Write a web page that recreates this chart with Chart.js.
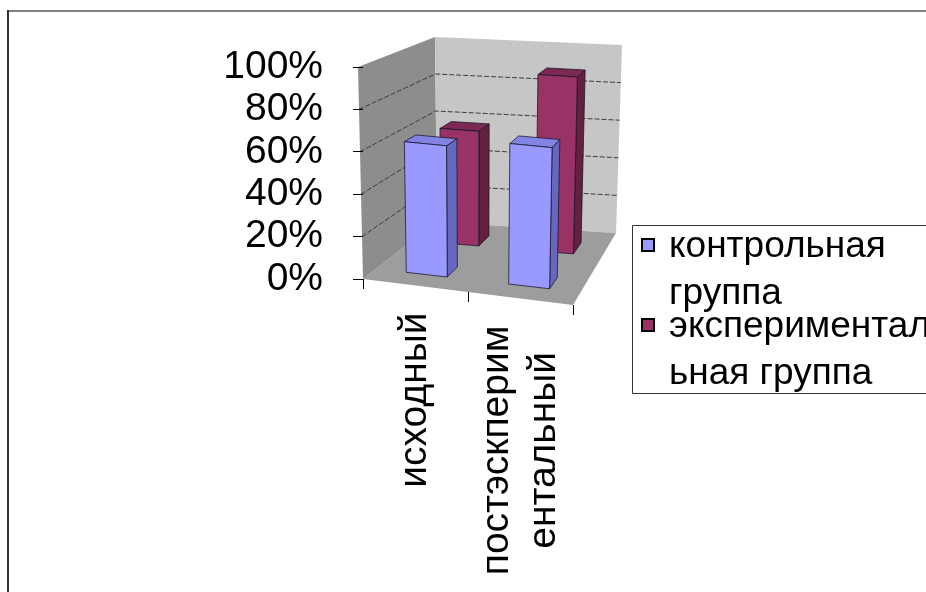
<!DOCTYPE html>
<html>
<head>
<meta charset="utf-8">
<script src="https://cdn.jsdelivr.net/npm/chart.js@4/dist/chart.umd.min.js"></script>
<style>
  html, body { margin: 0; padding: 0; background: #fff; }
  canvas { display: block; }
</style>
</head>
<body>
<canvas id="graph" width="926" height="592"></canvas>
<script>
// data
const categories = ['исходный', ['постэскперим', 'ентальный']]
const seriesNames = ['контрольная группа', 'экспериментальная группа']
const legendLines = [['контрольная', 'группа'], ['экспериментал', 'ьная группа']]
const control = [63, 67]
const experimental = [59, 90]
const yTicks = [0, 20, 40, 60, 80, 100]

const FONT = "'Liberation Sans', Arial, sans-serif"

// colours: front, side, top
const shades = [
    ['#9999ff', '#6767bd', '#8383e3'],
    ['#993366', '#63203f', '#7b2852']
]
// depth row of each series (0 = front, 1 = back wall)
const rows = [[0.17, 0.33], [0.67, 0.83]]

// corners of the 3d box, relative to the chart area
function corners(a) {
    return {
        flb: [a.left, a.bottom], frb: [a.right, a.bottom + 26],
        blb: [a.left + 74, a.bottom - 57], brb: [a.right + 43, a.bottom - 46],
        flt: [a.left - 5, a.top], frt: [a.right + 5, a.top + 21],
        blt: [a.left + 72, a.top - 30], brt: [a.right + 49, a.top - 22]
    }
}

function lerp(p, q, t) {
    return [p[0] + (q[0] - p[0]) * t, p[1] + (q[1] - p[1]) * t]
}

function project(c, u, v, w) {
    const bot = lerp(lerp(c.flb, c.frb, u), lerp(c.blb, c.brb, u), w)
    const top = lerp(lerp(c.flt, c.frt, u), lerp(c.blt, c.brt, u), w)
    return lerp(bot, top, v)
}

function face(ctx, pts, fill, stroke) {
    ctx.beginPath()
    ctx.moveTo(pts[0][0], pts[0][1])
    for (let i = 1; i < pts.length; i++) ctx.lineTo(pts[i][0], pts[i][1])
    ctx.closePath()
    ctx.fillStyle = fill
    ctx.fill()
    if (stroke) {
        ctx.strokeStyle = stroke
        ctx.lineWidth = 1
        ctx.stroke()
    }
}

const scene = {
    id: 'scene',
    beforeDraw(chart) {
        const ctx = chart.ctx
        const a = chart.chartArea
        const c = corners(a)
        const P = (u, v, w) => project(c, u, v, w)
        ctx.save()
        ctx.fillStyle = '#fff'
        ctx.fillRect(0, 0, chart.width, chart.height)
        // frame
        ctx.fillStyle = '#808080'
        ctx.fillRect(8, 10, chart.width - 8, 2)
        ctx.fillStyle = '#333'
        ctx.fillRect(7, 10, 2, chart.height - 10)

        // walls and floor
        face(ctx, [P(0, 0, 0), P(0, 0, 1), P(0, 1, 1), P(0, 1, 0)], '#8d8d8d')
        face(ctx, [P(0, 0, 1), P(1, 0, 1), P(1, 1, 1), P(0, 1, 1)], '#c6c6c6')
        face(ctx, [P(0, 0, 0), P(1, 0, 0), P(1, 0, 1), P(0, 0, 1)], '#9d9d9d')

        // gridlines on the walls
        const ys = chart.scales.y
        ctx.strokeStyle = '#3c3c3c'
        ctx.lineWidth = 1
        ctx.setLineDash([5, 2])
        ys.ticks.forEach(t => {
            if (t.value <= ys.min || t.value >= ys.max) return
            const v = (a.bottom - ys.getPixelForValue(t.value)) / a.height
            const p1 = P(0, v, 0), p2 = P(0, v, 1), p3 = P(1, v, 1)
            ctx.beginPath()
            ctx.moveTo(p1[0], p1[1])
            ctx.lineTo(p2[0], p2[1])
            ctx.lineTo(p3[0], p3[1])
            ctx.stroke()
        })
        ctx.restore()
    },
    beforeDatasetsDraw(chart) {
        const ctx = chart.ctx
        const a = chart.chartArea
        const c = corners(a)
        const P = (u, v, w) => project(c, u, v, w)
        ctx.save()
        for (let d = chart.data.datasets.length - 1; d >= 0; d--) {
            const [w0, w1] = rows[d]
            const [front, side, top] = shades[d]
            chart.getDatasetMeta(d).data.forEach(el => {
                const u0 = (el.x - el.width / 2 - a.left) / a.width
                const u1 = (el.x + el.width / 2 - a.left) / a.width
                const v0 = (a.bottom - el.base) / a.height
                const v1 = (a.bottom - el.y) / a.height
                const edge = 'rgba(20,20,40,0.75)'
                face(ctx, [P(u1, v0, w0), P(u1, v0, w1), P(u1, v1, w1), P(u1, v1, w0)], side, edge)
                face(ctx, [P(u0, v1, w0), P(u1, v1, w0), P(u1, v1, w1), P(u0, v1, w1)], top, edge)
                face(ctx, [P(u0, v0, w0), P(u1, v0, w0), P(u1, v1, w0), P(u0, v1, w0)], front, edge)
            })
        }
        ctx.restore()
        return false
    },
    afterDraw(chart) {
        const ctx = chart.ctx
        const a = chart.chartArea
        const c = corners(a)
        const P = (u, v, w) => project(c, u, v, w)
        const xs = chart.scales.x
        const n = chart.data.labels.length
        ctx.save()

        // category tick marks along the front edge of the floor
        ctx.strokeStyle = '#000'
        ctx.lineWidth = 1
        for (let k = 0; k <= n; k++) {
            const p = P(k / n, 0, 0)
            ctx.beginPath()
            ctx.moveTo(Math.round(p[0]) + 0.5, p[1])
            ctx.lineTo(Math.round(p[0]) + 0.5, p[1] + 10)
            ctx.stroke()
        }

        // rotated category labels
        ctx.font = '39px ' + FONT
        ctx.fillStyle = '#000'
        ctx.textAlign = 'center'
        ctx.textBaseline = 'middle'
        chart.data.labels.forEach((lab, i) => {
            const lines = Array.isArray(lab) ? lab : [lab]
            const u = (xs.getPixelForValue(i) - a.left) / a.width
            const p = P(u, 0, 0)
            const wMax = Math.max(...lines.map(s => ctx.measureText(s).width))
            ctx.save()
            ctx.translate(p[0], p[1] + 27 + wMax / 2)
            ctx.rotate(-Math.PI / 2)
            lines.forEach((s, j) => ctx.fillText(s, 0, (j - (lines.length - 1) / 2) * 47))
            ctx.restore()
        })

        // legend
        const lx = 632, ly = 225, lb = 393
        ctx.font = '37px ' + FONT
        ctx.strokeStyle = '#333'
        ctx.lineWidth = 1
        ctx.beginPath()
        ctx.moveTo(chart.width, ly + 0.5)
        ctx.lineTo(lx + 0.5, ly + 0.5)
        ctx.lineTo(lx + 0.5, lb + 0.5)
        ctx.lineTo(chart.width, lb + 0.5)
        ctx.stroke()
        ctx.textAlign = 'left'
        ctx.textBaseline = 'alphabetic'
        chart.data.datasets.forEach((ds, i) => {
            const cy = 245 + i * 80
            ctx.fillStyle = ds.backgroundColor
            ctx.fillRect(642, cy - 6, 12, 12)
            ctx.lineWidth = 2
            ctx.strokeStyle = '#000'
            ctx.strokeRect(642, cy - 6, 12, 12)
            ctx.fillStyle = '#000'
            legendLines[i].forEach((s, j) => ctx.fillText(s, 669, cy + 12 + j * 47))
        })
        ctx.restore()
    }
}

const ctx = document.getElementById('graph').getContext('2d')

const data = {
    labels: categories,
    datasets: [
        { label: seriesNames[0], data: control, backgroundColor: shades[0][0], grouped: false, barPercentage: 0.4, categoryPercentage: 1 },
        { label: seriesNames[1], data: experimental, backgroundColor: shades[1][0], grouped: false, barPercentage: 0.4, categoryPercentage: 1 }
    ]
}

const config = {
    type: 'bar',
    data: data,
    options: {
        responsive: false,
        animation: false,
        layout: { padding: { left: 0, top: 67, right: 353, bottom: 313 } },
        plugins: { legend: { display: false }, tooltip: { enabled: false } },
        scales: {
            x: { display: false },
            y: {
                min: 0,
                max: 100,
                afterFit: s => { s.width = 363 },
                afterBuildTicks: s => { s.ticks = yTicks.map(v => ({ value: v })) },
                ticks: {
                    autoSkip: false,
                    callback: v => v + '%',
                    color: '#000',
                    padding: 30,
                    font: { family: FONT, size: 39 }
                },
                grid: { drawOnChartArea: false, tickLength: 10, color: '#000' },
                border: { display: false }
            }
        }
    },
    plugins: [scene]
}

const graph = new Chart(ctx, config)
</script>
</body>
</html>
